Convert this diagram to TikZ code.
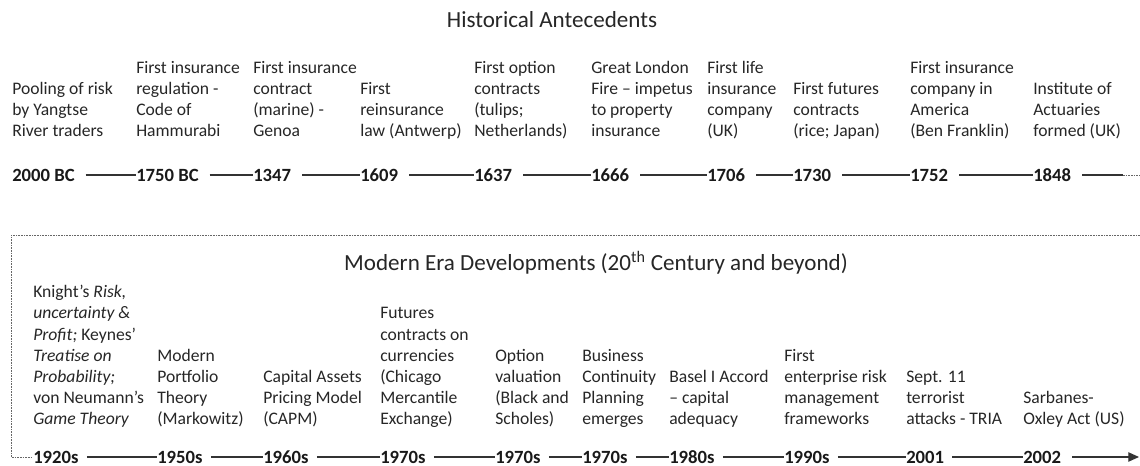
\documentclass[tikz,border=0pt]{standalone}
\usepackage{fontspec}
\setmainfont{Carlito}
\usetikzlibrary{arrows.meta,positioning}

\tikzset{
  year/.style={font=\fontsize{14}{16}\selectfont\bfseries,inner sep=0pt,anchor=west,text=black!90},
  event/.style={font=\fontsize{13.2}{15.9}\selectfont,align=left,inner sep=0pt,text depth=3pt,text=black!85},
  heading/.style={font=\fontsize{17.3}{20}\selectfont,inner sep=0pt,text=black!85},
  tl/.style={draw=black!80,line width=0.9pt},
  wrap/.style={draw=black!60,line width=0.7pt,dash pattern=on 1.2pt off 0.8pt}
}

\begin{document}
\begin{tikzpicture}[x=0.75pt,y=-0.75pt]
            \useasboundingbox (0,0) rectangle (1140,466);

            \node[heading] (H1) at (552,20) {Historical Antecedents};
            \node[heading] (H2) at (596,263) {Modern Era Developments (20\textsuperscript{th} Century and beyond)};

            \begin{scope}[every node/.style={year}]
                \node (A1) at (12,175) {2000 BC};
                \node (A2) at (136,175) {1750 BC};
                \node (A3) at (253,175) {1347};
                \node (A4) at (360,175) {1609};
                \node (A5) at (474,175) {1637};
                \node (A6) at (591,175) {1666};
                \node (A7) at (707,175) {1706};
                \node (A8) at (793,175) {1730};
                \node (A9) at (910,175) {1752};
                \node (A10) at (1033,175) {1848};

                \node (M1) at (33,457) {1920s};
                \node (M2) at (157,457) {1950s};
                \node (M3) at (263,457) {1960s};
                \node (M4) at (380,457) {1970s};
                \node (M5) at (495,457) {1970s};
                \node (M6) at (582,457) {1970s};
                \node (M7) at (669,457) {1980s};
                \node (M8) at (784,457) {1990s};
                \node (M9) at (906,457) {2001};
                \node (M10) at (1023,457) {2002};
            \end{scope}

            \begin{scope}[every node/.style={event}]
                \node[above right=20.5pt and 0pt of A1.north west] (E1) {Pooling of risk\\by Yangtse\\River traders};
                \node[above right=20.5pt and 0pt of A2.north west] (E2) {First insurance\\regulation -\\Code of\\Hammurabi};
                \node[above right=20.5pt and 0pt of A3.north west] (E3) {First insurance\\contract\\(marine) -\\Genoa};
                \node[above right=20.5pt and 0pt of A4.north west] (E4) {First\\reinsurance\\law (Antwerp)};
                \node[above right=20.5pt and 0pt of A5.north west] (E5) {First option\\contracts\\(tulips;\\Netherlands)};
                \node[above right=20.5pt and 0pt of A6.north west] (E6) {Great London\\Fire – impetus\\to property\\insurance};
                \node[above right=20.5pt and 0pt of A7.north west] (E7) {First life\\insurance\\company\\(UK)};
                \node[above right=20.5pt and 0pt of A8.north west] (E8) {First futures\\contracts\\(rice; Japan)};
                \node[above right=20.5pt and 0pt of A9.north west] (E9) {First insurance\\company in\\America\\(Ben Franklin)};
                \node[above right=20.5pt and 0pt of A10.north west] (E10) {Institute of\\Actuaries\\formed (UK)};

                \node[above right=16pt and 0pt of M1.north west] (D1) {Knight’s \textit{Risk,}\\\textit{uncertainty \&}\\\textit{Profit;} Keynes’\\\textit{Treatise on}\\\textit{Probability;}\\von Neumann’s\\\textit{Game Theory}};
                \node[above right=16pt and 0pt of M2.north west] (D2) {Modern\\Portfolio\\Theory\\(Markowitz)};
                \node[above right=16pt and 0pt of M3.north west] (D3) {Capital Assets\\Pricing Model\\(CAPM)};
                \node[above right=16pt and 0pt of M4.north west] (D4) {Futures\\contracts on\\currencies\\(Chicago\\Mercantile\\Exchange)};
                \node[above right=16pt and 0pt of M5.north west] (D5) {Option\\valuation\\(Black and\\Scholes)};
                \node[above right=16pt and 0pt of M6.north west] (D6) {Business\\Continuity\\Planning\\emerges};
                \node[above right=16pt and 0pt of M7.north west] (D7) {Basel I Accord\\– capital\\adequacy};
                \node[above right=16pt and 0pt of M8.north west] (D8) {First\\enterprise risk\\management\\frameworks};
                \node[above right=16pt and 0pt of M9.north west] (D9) {Sept. 11\\terrorist\\attacks - TRIA};
                \node[above right=16pt and 0pt of M10.north west] (D10) {Sarbanes-\\Oxley Act (US)};
            \end{scope}

            \coordinate (T1) at (1123,175);
            \coordinate (T2) at (1140,175);
            \coordinate (W1) at (1140,235);
            \coordinate (W2) at (11,235);
            \coordinate (Z) at (1139,457);

            \begin{scope}[every path/.style={tl}]
                \foreach \a/\b in {A1/A2,A2/A3,A3/A4,A4/A5,A5/A6,A6/A7,A7/A8,A8/A9,A9/A10}
                    \path ([xshift=8pt]\a.east) edge (\b.west);
                \path ([xshift=8pt]A10.east) edge (T1);
                \foreach \a/\b in {M1/M2,M2/M3,M3/M4,M4/M5,M5/M6,M6/M7,M7/M8,M8/M9,M9/M10}
                    \path ([xshift=6pt]\a.east) edge (\b.west);
                \draw[-{Triangle[length=8pt,width=7pt]}] ([xshift=8pt]M10.east) -- (Z);
            \end{scope}

            \draw[wrap] (T1) -- (T2);
            \draw[wrap] (W1) -- (W2) |- (M1.west);
\end{tikzpicture}
\end{document}
